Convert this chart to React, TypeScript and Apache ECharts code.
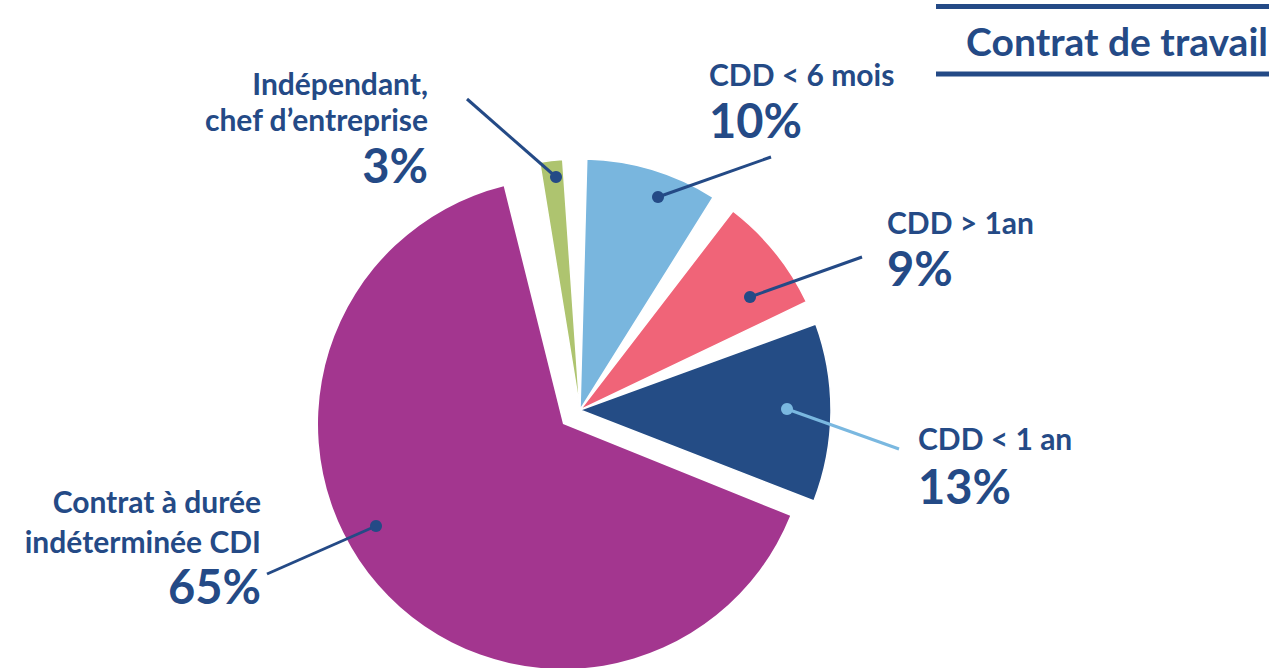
import { useEffect, useRef } from "react";
import * as echarts from "echarts";

// ---- data ----
const categories = [
  "Indépendant,\nchef d’entreprise",
  "CDD < 6 mois",
  "CDD > 1an",
  "CDD < 1 an",
  "Contrat à durée\nindéterminée CDI",
];
const values = [3, 10, 9, 13, 65];
const sliceColors = ["#aec46f", "#79b6de", "#f06478", "#244c85", "#a3368f"];
const titleText = "Contrat de travail";

// ---- styling / layout ----
const NAVY = "#244a86";
const LIGHT = "#7ab8e0";
const FONT = "Lato";

const annotationLayout = [
  { dot: [556, 177], end: [467, 99], x: 428, align: "right", lineYs: [83, 119], pctY: 165, lineColor: NAVY, dotColor: NAVY },
  { dot: [658, 197], end: [771, 157], x: 709, align: "left", lineYs: [74], pctY: 120, lineColor: NAVY, dotColor: NAVY },
  { dot: [750, 297], end: [862, 257], x: 887, align: "left", lineYs: [221.5], pctY: 268, lineColor: NAVY, dotColor: NAVY },
  { dot: [787, 409], end: [899, 449], x: 918, align: "left", lineYs: [438], pctY: 486, lineColor: LIGHT, dotColor: LIGHT },
  { dot: [376, 526], end: [267, 574], x: 261, align: "right", lineYs: [501, 541], pctY: 585.5, lineColor: NAVY, dotColor: NAVY },
];

export default function App() {
  const ref = useRef<HTMLDivElement>(null);
  useEffect(() => {
    document.body.style.margin = "0";
    if (!ref.current) return;
    const chart = echarts.init(ref.current, undefined, { renderer: "svg" });

    const graphics: any[] = [];
    // title + rules
    graphics.push({ type: "line", z: 100, shape: { x1: 936, y1: 6.5, x2: 1269, y2: 6.5 }, style: { stroke: NAVY, lineWidth: 5 } });
    graphics.push({ type: "line", z: 100, shape: { x1: 936, y1: 74, x2: 1269, y2: 74 }, style: { stroke: NAVY, lineWidth: 5 } });
    graphics.push({
      type: "text", z: 100, x: 1268, y: 41,
      style: { text: titleText, fill: NAVY, fontFamily: FONT, fontWeight: "bold", fontSize: 39, align: "right", verticalAlign: "middle" },
    });

    annotationLayout.forEach((a, i) => {
      graphics.push({ type: "line", z: 100, shape: { x1: a.dot[0], y1: a.dot[1], x2: a.end[0], y2: a.end[1] }, style: { stroke: a.lineColor, lineWidth: 3 } });
      graphics.push({ type: "circle", z: 101, shape: { cx: a.dot[0], cy: a.dot[1], r: 6 }, style: { fill: a.dotColor } });
      const lines = categories[i].split("\n");
      lines.forEach((t, j) => {
        graphics.push({
          type: "text", z: 100, x: a.x, y: a.lineYs[j],
          style: { text: t, fill: NAVY, fontFamily: FONT, fontWeight: "bold", fontSize: 30, align: a.align, verticalAlign: "middle" },
        });
      });
      graphics.push({
        type: "text", z: 100, x: a.x, y: a.pctY,
        style: { text: `${values[i]}%`, fill: NAVY, fontFamily: FONT, fontWeight: "bold", fontSize: 47, align: a.align, verticalAlign: "middle" },
      });
    });

    const cdiIndex = values.length - 1;
    chart.setOption({
      animation: false,
      backgroundColor: "#ffffff",
      series: [
        {
          type: "pie",
          silent: true,
          center: [580, 410],
          radius: 251,
          startAngle: 102,
          padAngle: 5.5,
          label: { show: false },
          labelLine: { show: false },
          data: values.map((v, i) => ({
            name: categories[i],
            value: v,
            itemStyle: i === cdiIndex
              ? { color: "rgba(0,0,0,0)", borderWidth: 0 }
              : { color: sliceColors[i], borderColor: "#ffffff", borderWidth: 1.5 },
          })),
        },
        {
          type: "pie",
          silent: true,
          center: [563, 424],
          radius: 245,
          startAngle: 104,
          label: { show: false },
          labelLine: { show: false },
          data: values.map((v, i) => ({
            name: categories[i],
            value: v,
            itemStyle: i === cdiIndex
              ? { color: sliceColors[i], borderWidth: 0 }
              : { color: "rgba(0,0,0,0)", borderWidth: 0 },
          })),
        },
      ],
      graphic: graphics,
    });
    return () => chart.dispose();
  }, []);
  return <div ref={ref} style={{ width: 1287, height: 668 }} />;
}
